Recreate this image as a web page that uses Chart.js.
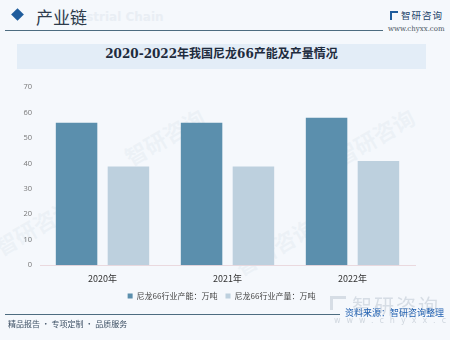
<!DOCTYPE html>
<html>
<head>
<meta charset="utf-8">
<script src="https://cdn.jsdelivr.net/npm/chart.js@4/dist/chart.umd.min.js"></script>
<style>
  html, body { margin: 0; padding: 0; }
  body {
    width: 450px; height: 340px; position: relative; overflow: hidden;
    background: #f5f8fc;
    font-family: "Noto Sans CJK SC", "Noto Sans", sans-serif;
  }
  .abs { position: absolute; white-space: nowrap; }
  /* header */
  #diamond { left: 13px; top: 10px; width: 9px; height: 9px; background: #1f5c9c; transform: rotate(45deg); }
  #ghost { left: 56px; top: 10px; font: bold 12px "DejaVu Sans", sans-serif; color: #e9eef4; }
  #section { left: 36px; top: 4px; font-size: 17px; color: #2d3b4b; font-family: "Noto Sans CJK SC"; }
  #topline { left: 5px; top: 30px; width: 378px; height: 1px; background: #4d6c80; }
  #logoIcon { left: 390px; top: 11px; width: 8px; height: 9px; border: 2px solid #1f5c9c; border-right: none; border-bottom: none; box-sizing: border-box; }
  #logoText { left: 401px; top: 8px; font-size: 9.5px; color: #24456b; letter-spacing: 1px; }
  #logoUrl { left: 388px; top: 25px; font: 7px "DejaVu Serif", serif; color: #4a5560; }
  /* title banner */
  #banner { left: 17px; top: 44px; width: 409px; height: 25px; background: #e3edf7; }
  #title { left: 17px; top: 44px; width: 409px; height: 25px; line-height: 25px; text-align: center;
    font: bold 12px "DejaVu Serif", "Noto Sans CJK SC", serif; color: #1e2b3d; }
  /* footer */
  #bottomline { left: 5px; top: 314px; width: 335px; height: 1px; background: #4d6c80; }
  #footer { left: 8px; top: 318px; font-size: 8px; color: #3c4f63; }
  #wmBig { left: 352px; top: 291px; font-size: 20px; color: #d6dde5; letter-spacing: 2px; }
  #wmIcon { left: 330px; top: 296px; width: 16px; height: 14px; border: 3px solid #d6dde5; border-right: none; border-bottom: none; box-sizing: border-box; }
  #wmUrl { left: 334px; top: 316px; font: 8px "DejaVu Sans", sans-serif; color: #d0d7df; letter-spacing: 6px; }
  #source { left: 345px; top: 306px; font-size: 9px; color: #1f5fb0; }
  .wm { position: absolute; color: rgba(205, 216, 228, 0.22); font-size: 22px; font-weight: bold; transform: rotate(-30deg); white-space: nowrap; }
  #chartBox { position: absolute; left: 12px; top: 76px; width: 426px; height: 234px; }
</style>
</head>
<body>
<div class="wm" style="left:120px;top:120px;">智研咨询</div>
<div class="wm" style="left:230px;top:230px;">智研咨询</div>
<div class="wm" style="left:-10px;top:210px;">智研咨询</div>
<div class="wm" style="left:330px;top:120px;">智研咨询</div>

<div class="abs" id="ghost">Industrial Chain</div>
<div class="abs" id="diamond"></div>
<div class="abs" id="section">产业链</div>
<div class="abs" id="topline"></div>
<div class="abs" id="logoIcon"></div>
<div class="abs" id="logoText">智研咨询</div>
<div class="abs" id="logoUrl">www.chyxx.com</div>

<div class="abs" id="banner"></div>
<div class="abs" id="title">2020-2022年我国尼龙66产能及产量情况</div>

<div id="chartBox"><canvas id="chart"></canvas></div>

<div class="abs" id="bottomline"></div>
<div class="abs" id="footer">精品报告 · 专项定制 · 品质服务</div>
<div class="abs" id="wmIcon"></div>
<div class="abs" id="wmBig">智研咨询</div>
<div class="abs" id="wmUrl">www.chyxx.com</div>
<div class="abs" id="source">资料来源：智研咨询整理</div>

<script>
'use strict';

// data
var years = ['2020年', '2021年', '2022年'];
var capacity = [56, 56, 57.9];      // 尼龙66行业产能：万吨
var production = [38.8, 38.8, 40.9]; // 尼龙66行业产量：万吨
var yTicks = [0, 10, 20, 30, 40, 50, 60, 70];

var fontCN = '"Noto Sans CJK SC", sans-serif';

// legend sits a bit right of the canvas centre in the reference
var shiftLegend = {
  id: 'shiftLegend',
  afterLayout: function(chart) {
    chart.legend.left += 8;
    chart.legend.right += 8;
  }
};

new Chart(document.getElementById('chart'), {
  type: 'bar',
  data: {
    labels: years,
    datasets: [{
      label: '尼龙66行业产能：万吨',
      data: capacity,
      backgroundColor: '#5b8fad'
    }, {
      label: '尼龙66行业产量：万吨',
      data: production,
      backgroundColor: '#bdd0de'
    }]
  },
  plugins: [shiftLegend],
  options: {
    responsive: true,
    maintainAspectRatio: false,
    animation: false,
    categoryPercentage: 0.83,
    barPercentage: 0.8,
    layout: { padding: { left: 0, right: 23, top: 11, bottom: 0 } },
    plugins: {
      tooltip: { enabled: false },
      legend: {
        position: 'bottom',
        labels: {
          boxWidth: 5,
          boxHeight: 5,
          padding: 8,
          color: '#444',
          font: { family: fontCN, size: 8 }
        }
      }
    },
    scales: {
      x: {
        grid: { display: false },
        border: { color: '#ead9de' },
        ticks: { color: '#333', font: { family: fontCN, size: 9 }, padding: 0 }
      },
      y: {
        min: yTicks[0],
        max: yTicks[yTicks.length - 1],
        afterBuildTicks: function(scale) {
          scale.ticks = yTicks.map(function(v) { return { value: v }; });
        },
        afterFit: function(scale) { scale.width = 28; },
        grid: { display: false },
        border: { display: false },
        ticks: { color: '#777', font: { family: '"Open Sans", sans-serif', size: 7.5 }, padding: 0 }
      }
    }
  }
});
</script>
</body>
</html>
